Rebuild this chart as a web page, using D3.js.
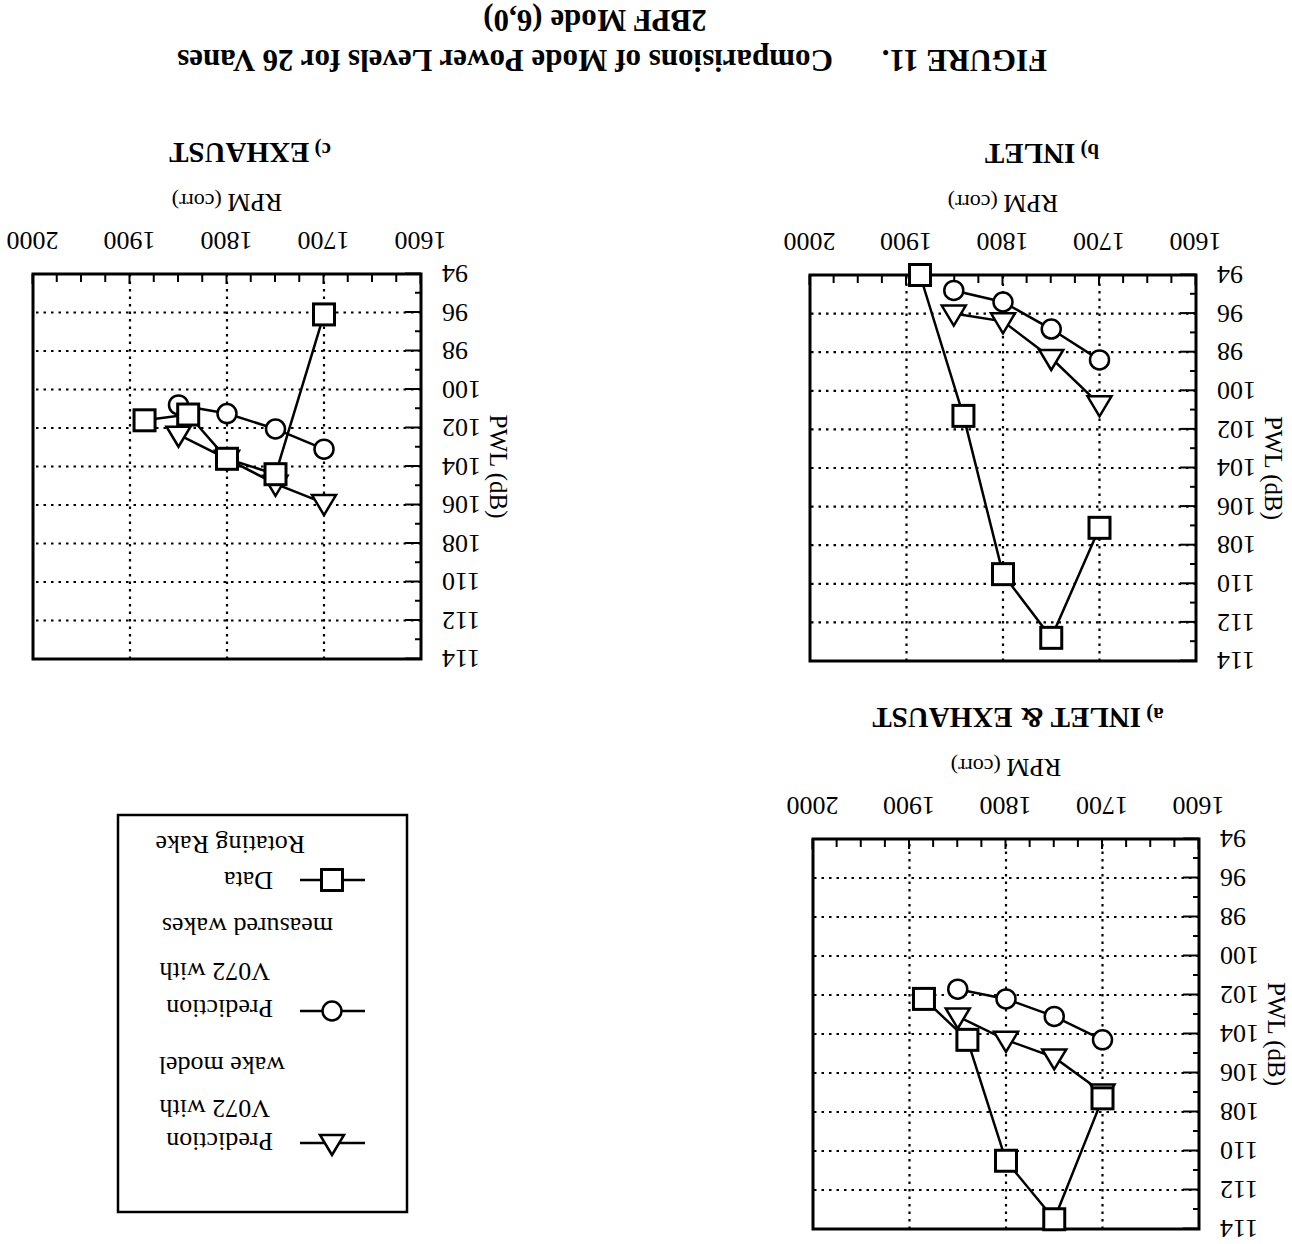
<!DOCTYPE html>
<html><head><meta charset="utf-8">
<script src="https://cdn.jsdelivr.net/npm/d3@7"></script>
<style>
body{margin:0;background:#fff}
svg{display:block;background:#fff}
text{font-family:"Liberation Serif","Times New Roman",serif;fill:#000}
</style>
</head><body>
<svg id="chart" width="1292" height="1244"></svg>
<script>
// ---------- data ----------
const rpmTickValues = [1600, 1700, 1800, 1900, 2000];
const pwlTickValues = [94, 96, 98, 100, 102, 104, 106, 108, 110, 112, 114];
const panelKeys = ["a", "b", "c"];
const panelPrefixes = ["a)", "b)", "c)"];
const panelNames = ["INLET & EXHAUST", "INLET", "EXHAUST"];
const xAxisTitle = ["RPM", " (corr)"];
const yAxisTitle = "PWL (dB)";
const titleLine1a = "FIGURE 11.";
const titleLine1b = "Comparisions of Mode Power Levels for 26 Vanes";
const titleLine2 = "2BPF Mode (6,0)";
const legendWake = ["Prediction", "V072 with", "wake model"];
const legendMeas = ["Prediction", "V072 with", "measured wakes"];
const legendRake = ["Data", "Rotating Rake"];

// a) INLET & EXHAUST
const rakeRpmA = [1885, 1840, 1800, 1750, 1700];
const rakePwlA = [102.2, 104.3, 110.5, 113.5, 107.3];
const measRpmA = [1850, 1800, 1750, 1700];
const measPwlA = [101.7, 102.2, 103.1, 104.3];
const wakeRpmA = [1850, 1800, 1750, 1700];
const wakePwlA = [103.1, 104.3, 105.2, 107.0];
// b) INLET
const rakeRpmB = [1886, 1841, 1800, 1750, 1700];
const rakePwlB = [94.0, 101.3, 109.5, 112.8, 107.1];
const measRpmB = [1851, 1800, 1750, 1700];
const measPwlB = [94.8, 95.4, 96.8, 98.4];
const wakeRpmB = [1851, 1800, 1750, 1700];
const wakePwlB = [96.0, 96.4, 98.3, 100.7];
// c) EXHAUST
const rakeRpmC = [1885, 1840, 1800, 1750, 1700];
const rakePwlC = [101.6, 101.3, 103.6, 104.4, 96.1];
const measRpmC = [1850, 1800, 1750, 1700];
const measPwlC = [100.8, 101.25, 102.05, 103.1];
const wakeRpmC = [1850, 1800, 1750, 1700];
const wakePwlC = [102.35, 103.6, 104.9, 105.9];

const panelData = {
  a: {rake: [rakeRpmA, rakePwlA], meas: [measRpmA, measPwlA], wake: [wakeRpmA, wakePwlA]},
  b: {rake: [rakeRpmB, rakePwlB], meas: [measRpmB, measPwlB], wake: [wakeRpmB, wakePwlB]},
  c: {rake: [rakeRpmC, rakePwlC], meas: [measRpmC, measPwlC], wake: [wakeRpmC, wakePwlC]}
};

// ---------- layout (upright page; whole page is then turned 180°) ----------
const layout = {
  a: {x0: 93, x1: 479, y0: 15, y1: 405, titleCx: 274},
  b: {x0: 96, x1: 482, y0: 583, y1: 969, titleCx: 250},
  c: {x0: 871, x1: 1259, y0: 585, y1: 970, titleCx: 1042}
};

const svg = d3.select("#chart");
svg.append("rect").attr("width", 1292).attr("height", 1244).attr("fill", "#fff");
const page = svg.append("g").attr("transform", "rotate(180 646 622)");

const dotted = "2.5 5";

function zip(arr) { return arr[0].map((r, i) => [r, arr[1][i]]); }

function marker(g, type, cx, cy) {
  if (type === "rake") {
    g.append("rect").attr("x", cx - 10.5).attr("y", cy - 10.5).attr("width", 21).attr("height", 21)
      .attr("fill", "#fff").attr("stroke", "#000").attr("stroke-width", 3);
  } else if (type === "meas") {
    g.append("circle").attr("cx", cx).attr("cy", cy).attr("r", 9.5)
      .attr("fill", "#fff").attr("stroke", "#000").attr("stroke-width", 2.5);
  } else {
    const p = d3.path();
    p.moveTo(cx, cy - 12); p.lineTo(cx + 12, cy + 8); p.lineTo(cx - 12, cy + 8); p.closePath();
    g.append("path").attr("d", p.toString())
      .attr("fill", "#fff").attr("stroke", "#000").attr("stroke-width", 2.5).attr("stroke-linejoin", "miter");
  }
}

panelKeys.forEach((k, idx) => {
  const L = layout[k];
  const x = d3.scaleLinear().domain([1600, 2000]).range([L.x0, L.x1]);
  const y = d3.scaleLinear().domain([94, 114]).range([L.y1, L.y0]);
  const g = page.append("g");

  // gridlines
  g.selectAll(null).data(rpmTickValues.slice(1, -1)).join("line")
    .attr("x1", d => x(d)).attr("x2", d => x(d)).attr("y1", L.y0).attr("y2", L.y1)
    .attr("stroke", "#000").attr("stroke-width", 2.2).attr("stroke-dasharray", dotted);
  g.selectAll(null).data(pwlTickValues.slice(1, -1)).join("line")
    .attr("x1", L.x0).attr("x2", L.x1).attr("y1", d => y(d)).attr("y2", d => y(d))
    .attr("stroke", "#000").attr("stroke-width", 2.2).attr("stroke-dasharray", dotted);

  // minor ticks
  const minorX = d3.range(1625, 2000, 25).filter(v => v % 100 !== 0);
  const minorY = d3.range(95, 114, 2);
  g.append("g").attr("transform", `translate(0,${L.y1})`)
    .call(d3.axisBottom(x).tickValues(minorX).tickSize(-8).tickFormat(""))
    .call(s => s.select(".domain").remove())
    .call(s => s.selectAll("line").attr("stroke-width", 2));
  g.append("g").attr("transform", `translate(${L.x0},0)`)
    .call(d3.axisLeft(y).tickValues(minorY).tickSize(-6).tickFormat(""))
    .call(s => s.select(".domain").remove())
    .call(s => s.selectAll("line").attr("stroke-width", 2));

  // major ticks + labels
  g.append("g").attr("transform", `translate(0,${L.y1})`)
    .call(d3.axisBottom(x).tickValues(rpmTickValues).tickSize(-10).tickPadding(24).tickFormat(d3.format("d")))
    .call(s => s.select(".domain").remove())
    .call(s => s.selectAll("line").attr("stroke-width", 2))
    .call(s => s.selectAll("text").attr("font-size", 26).attr("font-family", "Liberation Serif"));
  g.append("g").attr("transform", `translate(${L.x0},0)`)
    .call(d3.axisLeft(y).tickValues(pwlTickValues).tickSize(-16).tickPadding(21).tickFormat(d3.format("d")))
    .call(s => s.select(".domain").remove())
    .call(s => s.selectAll("line").attr("stroke-width", 2))
    .call(s => s.selectAll("text").attr("font-size", 26).attr("font-family", "Liberation Serif"));

  // frame
  g.append("rect").attr("x", L.x0).attr("y", L.y0).attr("width", L.x1 - L.x0).attr("height", L.y1 - L.y0)
    .attr("fill", "none").attr("stroke", "#000").attr("stroke-width", 3);

  // series
  const line = d3.line().x(d => x(d[0])).y(d => y(d[1]));
  ["wake", "meas", "rake"].forEach(type => {
    const pts = zip(panelData[k][type]);
    g.append("path").attr("d", line(pts)).attr("fill", "none").attr("stroke", "#000").attr("stroke-width", 2.5);
    pts.forEach(p => marker(g, type, x(p[0]), y(p[1])));
  });

  // axis titles
  const cx = (L.x0 + L.x1) / 2;
  const xt = g.append("text").attr("x", cx).attr("y", L.y1 + 80).attr("text-anchor", "middle").attr("font-size", 26);
  xt.append("tspan").text(xAxisTitle[0]);
  xt.append("tspan").attr("font-size", 22).text(xAxisTitle[1]);
  g.append("text").attr("transform", `translate(${L.x0 - 69},${(L.y0 + L.y1) / 2}) rotate(-90)`)
    .attr("text-anchor", "middle").attr("font-size", 25).text(yAxisTitle);

  // panel title
  const pt = g.append("text").attr("x", L.titleCx).attr("y", L.y1 + 131).attr("text-anchor", "middle")
    .attr("font-weight", "bold").attr("font-size", 29);
  pt.append("tspan").attr("font-size", 21).text(panelPrefixes[idx] + " ");
  pt.append("tspan").text(panelNames[idx]);
});

// legend
const lg = page.append("g");
lg.append("rect").attr("x", 885).attr("y", 32).attr("width", 289).attr("height", 397)
  .attr("fill", "none").attr("stroke", "#000").attr("stroke-width", 2.5);
const legendRows = [
  {type: "wake", sy: 101, lines: legendWake, xs: [1019, 1022, 1007], ys: [111, 144, 187]},
  {type: "meas", sy: 233, lines: legendMeas, xs: [1019, 1022, 959], ys: [244, 281, 326]},
  {type: "rake", sy: 364, lines: legendRake, xs: [1019, 987], ys: [372, 408]}
];
legendRows.forEach(r => {
  lg.append("line").attr("x1", 927).attr("x2", 992).attr("y1", r.sy).attr("y2", r.sy)
    .attr("stroke", "#000").attr("stroke-width", 2.5);
  marker(lg, r.type, 960, r.sy);
  r.lines.forEach((t, i) => {
    lg.append("text").attr("x", r.xs[i]).attr("y", r.ys[i]).attr("font-size", 26).text(t);
  });
});

// figure title
page.append("text").attr("x", 245).attr("y", 1194).attr("font-size", 31).attr("font-weight", "bold").text(titleLine1a);
page.append("text").attr("x", 459).attr("y", 1194).attr("font-size", 31).attr("font-weight", "bold").text(titleLine1b);
page.append("text").attr("x", 697).attr("y", 1234).attr("text-anchor", "middle").attr("font-size", 31).attr("font-weight", "bold").text(titleLine2);
</script>
</body></html>
